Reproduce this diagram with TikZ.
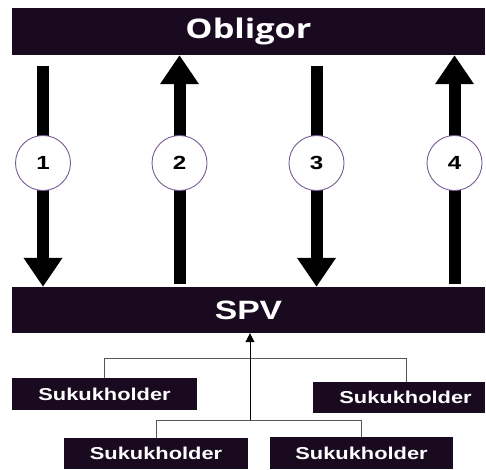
\documentclass[tikz,border=0pt]{standalone}
\usepackage{fontspec}
\usetikzlibrary{arrows.meta,calc}
\newfontfamily\lsb{Liberation Sans}[FakeStretch=1.27]
\newfontfamily\osb{Open Sans}[FakeStretch=1.27]
\definecolor{boxc}{RGB}{25,10,32}
\definecolor{circc}{RGB}{120,90,150}
\definecolor{connc}{RGB}{85,85,85}
\tikzset{
  darkbox/.style={fill=boxc,text=white,inner sep=0pt,draw=none},
  shbox/.style={darkbox,font=\lsb\bfseries\fontsize{17.2}{17.2}\selectfont},
  bigarrow/.style={line width=12pt,-{Triangle[width=37pt,length=29pt]}},
  numcirc/.style={circle,draw=circc,line width=0.9pt,fill=white,minimum size=55pt,inner sep=0pt,font=\lsb\bfseries\fontsize{19}{19}\selectfont},
  conn/.style={draw=connc,line width=0.8pt},
  thinarrow/.style={draw=black,line width=1pt,-{Triangle[width=9pt,length=9pt]}}
}
\begin{document}
\begin{tikzpicture}[x=1pt,y=-1pt]
\path[use as bounding box] (0,0) rectangle (486,469);
\node[darkbox,minimum width=473pt,minimum height=47pt,font=\osb\bfseries\fontsize{27}{27}\selectfont] (obl) at (248.5,31.5) {Obligor};
\node[darkbox,minimum width=473pt,minimum height=46pt,font=\lsb\bfseries\fontsize{26.5}{26.5}\selectfont] (spv) at (248.5,310) {SPV};
\coordinate (c1) at (43,163);
\coordinate (c2) at (179.5,163);
\coordinate (c3) at (316.5,163);
\coordinate (c4) at (454.5,163);
\draw[bigarrow] ($(obl.south -| c1)+(0,11)$) -- (spv.north -| c1);
\draw[bigarrow] ($(spv.north -| c2)+(0,-3)$) -- (obl.south -| c2);
\draw[bigarrow] ($(obl.south -| c3)+(0,11)$) -- (spv.north -| c3);
\draw[bigarrow] ($(spv.north -| c4)+(0,-3)$) -- (obl.south -| c4);
\node[numcirc] (n1) at (c1) {1};
\node[numcirc] (n2) at (c2) {2};
\node[numcirc] (n3) at (c3) {3};
\node[numcirc] (n4) at (c4) {4};
\node[shbox,minimum width=185pt,minimum height=32pt] (sh1) at (104.5,394) {Sukukholder};
\node[shbox,minimum width=172pt,minimum height=31pt] (sh2) at (399,397.5) {\hspace*{13pt}Sukukholder};
\node[shbox,minimum width=184pt,minimum height=31pt] (sh3) at (156,453.5) {Sukukholder};
\node[shbox,minimum width=183pt,minimum height=32pt] (sh4) at (361.5,453) {Sukukholder};
\coordinate (j1) at (250,358);
\coordinate (j2) at (250,420);
\coordinate (k2) at (406,358);
\draw[conn] (sh1.north) |- (k2) -- (k2 |- sh2.north);
\draw[conn] (sh3.north) |- (j2) -| (sh4.north);
\draw[thinarrow] (j2) -- (spv.south -| j2);
\end{tikzpicture}
\end{document}
